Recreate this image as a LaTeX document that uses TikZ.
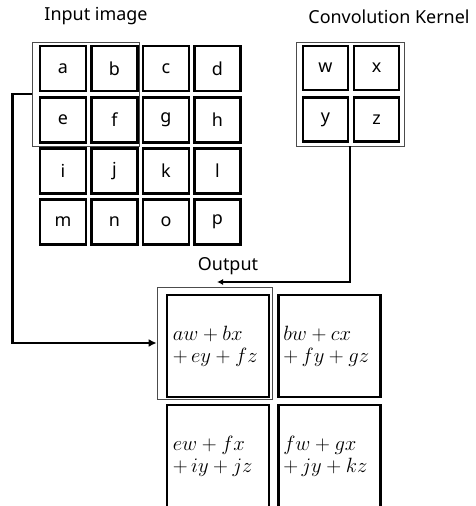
\documentclass[tikz,border=0pt]{standalone}
\usepackage{fontspec}
\setmainfont{Noto Sans}
\usetikzlibrary{arrows.meta}
\begin{document}
\begin{tikzpicture}[x=1bp,y=-1bp,
  cellbox/.style={draw,line width=2.8bp,minimum width=46bp,minimum height=45bp,inner sep=0pt,font=\fontsize{18}{20}\selectfont},
  outbox/.style={draw,line width=2.8bp,minimum width=102bp,minimum height=102bp,inner sep=0pt},
  outtext/.style={align=left,font=\fontsize{20}{22}\selectfont,inner sep=0pt},
  hlbox/.style={draw=black!70,line width=0.8bp,inner sep=0pt},
  title/.style={font=\fontsize{18}{20}\selectfont,inner sep=0pt},
  conn/.style={line width=2.4bp}
]
\useasboundingbox (0,0) rectangle (476,506);
\clip (0,0) rectangle (476,506);
% titles
\node[title] (tin) at (96,16) {Input image};
\node[title] (tk) at (389,17) {Convolution Kernel};
\node[title] (tout) at (228,266) {Output};
% highlight boxes
\node[hlbox,minimum width=107bp,minimum height=104bp] (inhl) at (85.5,94) {};
\node[hlbox,minimum width=108bp,minimum height=104bp] (khl) at (350,94) {};
\node[hlbox,minimum width=115bp,minimum height=112bp] (outhl) at (214.5,343) {};
% input cells
\foreach \t [count=\i from 0] in {a,b,c,d,e,f,g,h,i,j,k,l,m,n,o,p}{
  \pgfmathtruncatemacro{\col}{mod(\i,4)}
  \pgfmathtruncatemacro{\row}{div(\i,4)}
  \node[cellbox] (in\t) at ({63+51.5*\col},{68.5+51.2*\row}) {\t};
}
% kernel cells
\node[cellbox,minimum width=45bp,minimum height=44bp] (kw) at (325.5,68) {w};
\node[cellbox,minimum width=45bp,minimum height=44bp] (kx) at (376.5,68) {x};
\node[cellbox,minimum width=45bp,minimum height=44bp] (ky) at (325.5,119.5) {y};
\node[cellbox,minimum width=45bp,minimum height=44bp] (kz) at (376.5,119.5) {z};
% output cells
\node[outbox] (o1) at (218,346) {};
\node[outbox] (o2) at (329.5,346) {};
\node[outbox] (o3) at (218,456) {};
\node[outbox] (o4) at (329.5,456) {};
\node[outtext,anchor=west] at ([xshift=7bp]o1.west) {$aw+bx$\\$+\,ey+fz$};
\node[outtext,anchor=west] at ([xshift=6bp]o2.west) {$bw+cx$\\$+\,fy+gz$};
\node[outtext,anchor=west] at ([xshift=7bp]o3.west) {$ew+fx$\\$+\,iy+jz$};
\node[outtext,anchor=west] at ([xshift=6bp]o4.west) {$fw+gx$\\$+\,jy+kz$};
% connectors
\coordinate (kend) at (217,282);
\draw[conn,-{Latex[length=6bp,width=6bp]}] (khl.south) |- (kend);
\draw[conn,-{Latex[length=8bp,width=8bp]}] (inhl.west) -- ++(-19,0) |- (outhl.west);
\end{tikzpicture}
\end{document}
